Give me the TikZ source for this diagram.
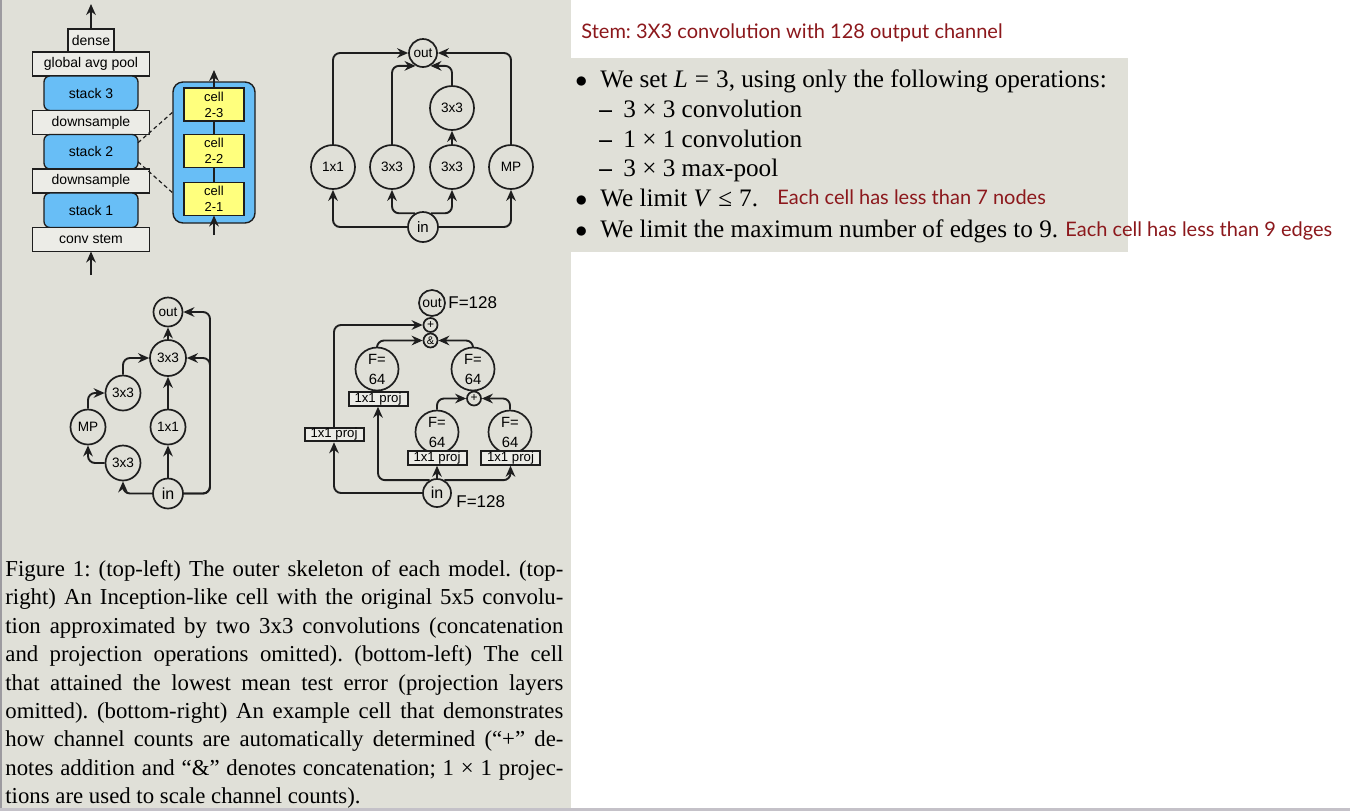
\documentclass[tikz,border=0pt]{standalone}
\usepackage{fontspec}
\setmainfont{Liberation Serif}
\setsansfont{Liberation Sans}
\newfontfamily\notefont{Lato}
\usetikzlibrary{arrows.meta,positioning}
\definecolor{paper}{RGB}{224,224,216}
\definecolor{layerfill}{RGB}{236,236,231}
\definecolor{stackblue}{RGB}{104,190,246}
\definecolor{cellyellow}{RGB}{255,255,125}
\definecolor{ink}{RGB}{30,30,30}
\definecolor{note}{RGB}{140,24,28}
\definecolor{rim}{RGB}{196,193,200}
\tikzset{
  plainbox/.style={draw=ink, fill=layerfill, line width=0.65pt, inner sep=0pt, outer sep=0pt,
    minimum width=58.5pt, minimum height=12pt, font=\sffamily\fontsize{7}{8}\selectfont},
  stackbox/.style={plainbox, fill=stackblue, rounded corners=3pt, minimum width=47pt, minimum height=17.25pt},
  cellbox/.style={plainbox, fill=cellyellow, align=center, minimum width=30pt, minimum height=16.5pt,
    font=\sffamily\fontsize{6.5}{8}\selectfont},
  opnode/.style={circle, draw=ink, fill=paper, line width=0.85pt, inner sep=0pt, minimum size=#1,
    font=\sffamily\fontsize{6.8}{7}\selectfont},
  proj/.style={draw=ink, fill=layerfill, line width=1pt, inner sep=0pt, minimum width=29.5pt,
    minimum height=6.75pt, font=\sffamily\fontsize{6.6}{6.6}\selectfont},
  arrow/.style={-{Stealth[length=5.5pt,width=4.8pt]}, line width=0.95pt, draw=ink, rounded corners=3.5pt},
  bodytext/.style={anchor=base west, inner sep=0pt, font=\fontsize{12.6}{14}\selectfont},
  redline/.style={anchor=base west, inner sep=0pt, text=note, font=\notefont\fontsize{10}{12}\selectfont}
}

\begin{document}
\frenchspacing
\begin{tikzpicture}[x=0.5pt, y=-0.5pt]
  \useasboundingbox (0,0) rectangle (1350,811);
  % screenshot panels
  \fill[white] (0,0) rectangle (1350,811);
  \fill[paper] (0,0) rectangle (571,808);
  \fill[paper] (571,58) rectangle (1128,252);
  \fill[rim!80!black] (0,0) rectangle (2,808);
  \fill[rim] (0,808) rectangle (1350,811);

  % top-left: outer skeleton
  \node[plainbox, minimum width=23pt, minimum height=11.5pt] (dense) at (91,40.5) {dense};
  \node[plainbox, below=0pt of dense] (pool) {global avg pool};
  \node[stackbox, below=0pt of pool] (s3) {stack 3};
  \node[plainbox, below=0pt of s3] (ds2) {downsample};
  \node[stackbox, below=0pt of ds2] (s2) {stack 2};
  \node[plainbox, below=0pt of s2] (ds1) {downsample};
  \node[stackbox, below=0pt of ds1] (s1) {stack 1};
  \node[plainbox, below=0pt of s1] (stem) {conv stem};
  \coordinate (skelout) at (91,4);
  \coordinate (skelin) at (91,275);
  \draw[arrow] (dense) -- (skelout);
  \draw[arrow] (skelin) -- (stem);

  \node[draw=ink, fill=stackblue, rounded corners=5pt, line width=0.7pt,
    minimum width=41pt, minimum height=70.5pt] (stackzoom) at (214,152.5) {};
  \node[cellbox] (c23) at (214,104.5) {cell\\2-3};
  \node[cellbox] (c22) at (214,151) {cell\\2-2};
  \node[cellbox] (c21) at (214,199) {cell\\2-1};
  \draw[ink, line width=0.6pt] (c21) -- (c22) (c22) -- (c23);
  \coordinate (cellout) at (214,70);
  \coordinate (cellin) at (214,235);
  \draw[arrow] (c23) -- (cellout);
  \draw[arrow] (cellin) -- (c21);
  \draw[ink, line width=0.6pt, dash pattern=on 2pt off 1.5pt]
    ([yshift=4.5pt]s2.east) -- ([yshift=20pt]stackzoom.west)
    ([yshift=-5pt]s2.east) -- ([yshift=-20pt]stackzoom.west);

  % top-right: inception-like cell
  \node[opnode=14pt] (tout) at (423,53) {out};
  \node[opnode=22pt] (t11) at (333,167) {1x1};
  \node[opnode=22pt] (t3a) at (392,167) {3x3};
  \node[opnode=22pt] (t3b) at (452,167) {3x3};
  \node[opnode=22pt] (tmp) at (511,167) {MP};
  \node[opnode=22pt] (t3c) at (452,108) {3x3};
  \node[opnode=15pt, font=\sffamily\fontsize{7.5}{7.5}\selectfont] (tin) at (423,227) {in};
  \draw[arrow] (tin) -| (t11);
  \draw[arrow] (tin) -| (tmp);
  \draw[arrow] (tin.120) -| (t3a);
  \draw[arrow] (tin.60) -| (t3b);
  \draw[arrow] (t3b) -- (t3c);
  \draw[arrow] (t11) |- (tout);
  \draw[arrow] (tmp) |- (tout);
  \draw[arrow] (t3a) |- (tout.240);
  \draw[arrow] (t3c) |- (tout.300);

  % bottom-left: best cell
  \begin{scope}[every node/.append style={font=\sffamily\fontsize{7}{7}\selectfont}]
    \node[opnode=14.5pt] (bout) at (168,312) {out};
    \node[opnode=18pt] (btop) at (168,358) {3x3};
    \node[opnode=17.5pt] (bup) at (123,393) {3x3};
    \node[opnode=17.5pt] (bmp) at (88,427) {MP};
    \node[opnode=17.5pt] (b11) at (168,427) {1x1};
    \node[opnode=17.5pt] (blow) at (123,463) {3x3};
    \node[opnode=15pt, font=\sffamily\fontsize{8}{8}\selectfont] (bin) at (168,493.5) {in};
  \end{scope}
  \coordinate (bturn) at (210,493.5);
  \draw[arrow] (btop) -- (bout);
  \draw[arrow] (b11) -- (btop);
  \draw[arrow] (bin) -- (b11);
  \draw[arrow] (bin) -| (blow);
  \draw[arrow] (blow) -| (bmp);
  \draw[arrow] (bmp) |- (bup);
  \draw[arrow] (bup) |- (btop);
  \draw[arrow] (bin) -- (bturn) |- (bout);
  \draw[arrow] (bin) -- (bturn) |- (btop);

  % bottom-right: channel counts
  \node[opnode=13pt, font=\sffamily\fontsize{7}{7}\selectfont] (rout) at (432,303) {out};
  \node[anchor=west, inner sep=0pt, font=\sffamily\fontsize{8.5}{9}\selectfont] (routf) at (448,303) {F=128};
  \node[opnode=21.5pt, align=center, font=\sffamily\fontsize{7.4}{10}\selectfont] (rl) at (377,369) {F=\\64};
  \node[opnode=21.5pt, align=center, font=\sffamily\fontsize{7.4}{10}\selectfont] (rr) at (473,369) {F=\\64};
  \node[opnode=21.5pt, align=center, font=\sffamily\fontsize{7.4}{10}\selectfont] (rm) at (437,432) {F=\\64};
  \node[opnode=21.5pt, align=center, font=\sffamily\fontsize{7.4}{10}\selectfont] (rrr) at (510,432) {F=\\64};
  \node[opnode=7pt, font=\sffamily\fontsize{6}{6}\selectfont] (rplus) at (430.5,325) {+};
  \node[opnode=7pt, font=\sffamily\fontsize{5.5}{6}\selectfont] (ramp) at (430.5,340.5) {\&};
  \node[opnode=7pt, font=\sffamily\fontsize{6}{6}\selectfont] (rplus2) at (474,398.5) {+};
  \node[proj] (rlp) at (378,399) {1x1 proj};
  \node[proj] (rmp) at (437,458) {1x1 proj};
  \node[proj] (rrp) at (510.5,458) {1x1 proj};
  \node[proj] (rfp) at (334,434.5) {1x1 proj};
  \node[opnode=14pt, font=\sffamily\fontsize{8}{8}\selectfont] (rin) at (437,493) {in};
  \node[anchor=west, inner sep=0pt, font=\sffamily\fontsize{8.5}{9}\selectfont] (rinf) at (456,502) {F=128};
  \draw[arrow] (rin) -| (rfp);
  \draw[arrow] (rfp) |- (rplus);
  \draw[arrow] (rin.120) -| (rlp);
  \draw[arrow] (rin.60) -| (rrp);
  \draw[arrow] (rin) -- (rmp);
  \draw[arrow] (rm) |- (rplus2);
  \draw[arrow] (rrr) |- (rplus2);
  \draw[arrow] (rl) |- (ramp);
  \draw[arrow] (rr) |- (ramp);

  % caption
  \node[anchor=north west, inner sep=0pt, text width=279pt, align=justify,
    font=\fontsize{11.4}{14.2}\selectfont] (caption) at (5,560) {\tolerance=10000
    Figure 1: (top-left) The outer skeleton of each model. (top-\linebreak
    right) An Inception-like cell with the original 5x5 convolu-\linebreak
    tion approximated by two 3x3 convolutions (concatenation\linebreak
    and projection operations omitted). (bottom-left) The cell\linebreak
    that attained the lowest mean test error (projection layers\linebreak
    omitted). (bottom-right) An example cell that demonstrates\linebreak
    how channel counts are automatically determined (“+” de-\linebreak
    notes addition and “\&” denotes concatenation; 1 × 1 projec-\linebreak
    tions are used to scale channel counts).};

  % right: notes
  \node[redline] (stemnote) at (581,38) {Stem: 3X3 convolution with 128 output channel};
  \node[bodytext] (opset) at (575,87) {\makebox[12.5pt][l]{$\bullet$}We set \textit{L}\;=\;3, using only the following operations:};
  \node[bodytext] (conv3) at (599,117) {\makebox[12pt][l]{\textbf{--}}3 × 3 convolution};
  \node[bodytext] (conv1) at (599,147) {\makebox[12pt][l]{\textbf{--}}1 × 1 convolution};
  \node[bodytext] (pool3) at (599,176.5) {\makebox[12pt][l]{\textbf{--}}3 × 3 max-pool};
  \node[bodytext] (vlimit) at (575,206.5) {\makebox[12.5pt][l]{$\bullet$}We limit \textit{V}\;≤\;7.};
  \node[redline] (vnote) at (777,204) {Each cell has less than 7 nodes};
  \node[bodytext] (elimit) at (575,237) {\makebox[12.5pt][l]{$\bullet$}We limit the maximum number of edges to 9.};
  \node[redline] (enote) at (1065,236) {Each cell has less than 9 edges};
\end{tikzpicture}
\end{document}
